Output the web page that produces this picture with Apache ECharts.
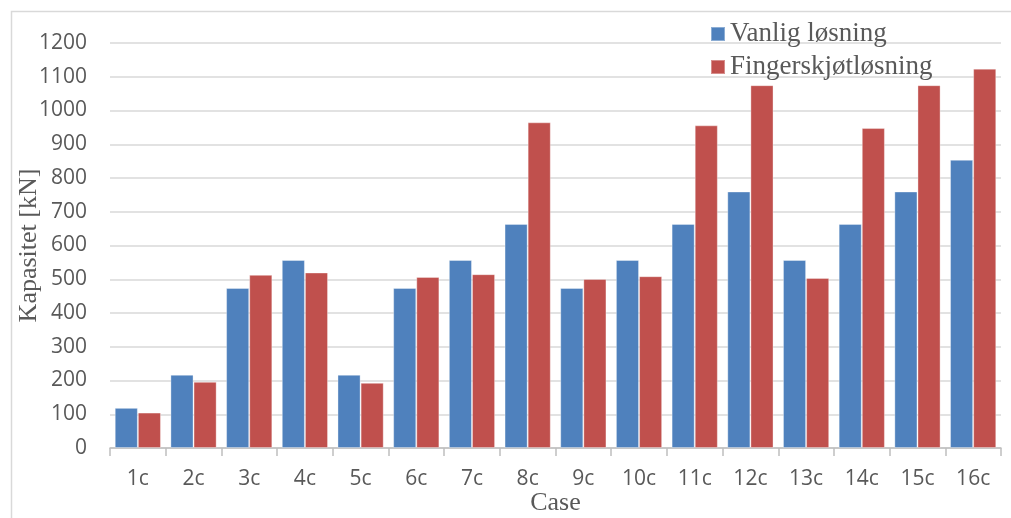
<!DOCTYPE html>
<html>
<head>
<meta charset="utf-8">
<script src="https://cdn.jsdelivr.net/npm/echarts@6/dist/echarts.min.js"></script>
<style>
  html, body { margin: 0; padding: 0; background: #ffffff; }
  #chart { width: 1011px; height: 518px; }
</style>
</head>
<body>
<div id="chart"></div>
<script>
// Capacity per case, in kN
const cases = ['1c', '2c', '3c', '4c', '5c', '6c', '7c', '8c', '9c', '10c', '11c', '12c', '13c', '14c', '15c', '16c'];
const vanlig = [119, 217, 474, 557, 217, 474, 557, 664, 474, 557, 664, 760, 557, 664, 760, 854];
const finger = [105, 196, 513, 520, 193, 507, 515, 965, 501, 509, 956, 1075, 504, 948, 1075, 1124];
const seriesNames = ['Vanlig løsning', 'Fingerskjøtløsning'];

const sansFont = '"Open Sans", "Liberation Sans", sans-serif';
const serifFont = '"Liberation Serif", "DejaVu Serif", serif';
const textGrey = '#595959';

const chart = echarts.init(document.getElementById('chart'), null, { renderer: 'canvas' });

chart.setOption({
  backgroundColor: '#ffffff',
  animation: false,
  graphic: [{
    type: 'rect',
    left: 9,
    top: 9,
    shape: { width: 1100, height: 600 },
    style: { fill: 'none', stroke: '#d9d9d9', lineWidth: 1.5 },
    silent: true
  }],
  legend: {
    orient: 'vertical',
    left: 710,
    top: 20,
    padding: 0,
    itemWidth: 14,
    itemHeight: 14,
    itemGap: 5,
    icon: 'rect',
    textStyle: { fontFamily: serifFont, fontSize: 27, color: textGrey, lineHeight: 28 },
    data: seriesNames
  },
  grid: { left: 110, right: 10, top: 43, bottom: 70, outerBoundsMode: 'none', containLabel: false },
  xAxis: {
    type: 'category',
    data: cases,
    name: 'Case',
    nameLocation: 'middle',
    nameGap: 42,
    nameMoveOverlap: false,
    nameTextStyle: { fontFamily: serifFont, fontSize: 26, color: textGrey },
    axisLine: { lineStyle: { color: '#bfbfbf', width: 1.5 } },
    axisTick: { show: true, length: 8, lineStyle: { color: '#bfbfbf', width: 1.5 } },
    axisLabel: { fontFamily: sansFont, fontSize: 21, color: textGrey, margin: 21 }
  },
  yAxis: {
    type: 'value',
    min: 0,
    max: 1200,
    interval: 100,
    name: 'Kapasitet [kN]',
    nameLocation: 'middle',
    nameRotate: 90,
    nameGap: 68,
    nameMoveOverlap: false,
    nameTextStyle: { fontFamily: serifFont, fontSize: 26, color: textGrey },
    axisLine: { show: false },
    axisTick: { show: false },
    axisLabel: {
      fontFamily: sansFont, fontSize: 21, color: textGrey, margin: 23,
      formatter: v => String(v)
    },
    splitLine: { lineStyle: { color: '#d9d9d9', width: 1.5 } }
  },
  series: [
    {
      name: seriesNames[0],
      type: 'bar',
      data: vanlig,
      barGap: '0%',
      barCategoryGap: '17%',
      itemStyle: { color: '#4F81BD', borderColor: 'rgba(255,255,255,0.35)', borderWidth: 1 }
    },
    {
      name: seriesNames[1],
      type: 'bar',
      data: finger,
      barGap: '0%',
      barCategoryGap: '17%',
      itemStyle: { color: '#C0504D', borderColor: 'rgba(255,255,255,0.35)', borderWidth: 1 }
    }
  ]
});
</script>
</body>
</html>
